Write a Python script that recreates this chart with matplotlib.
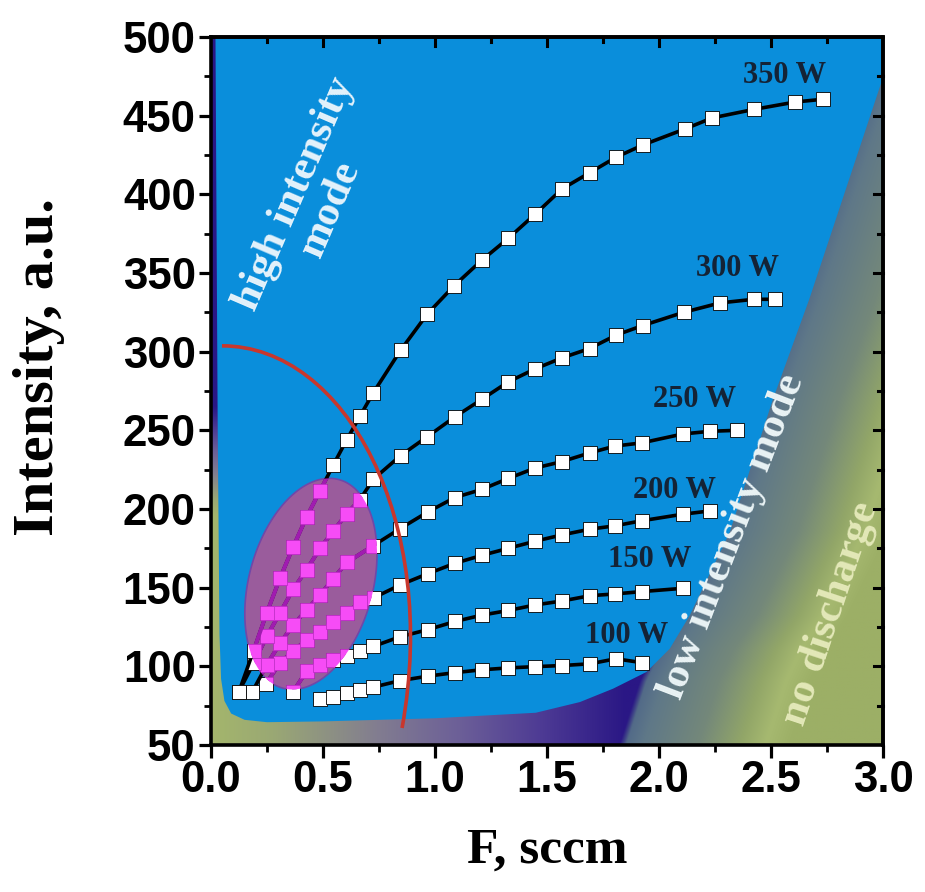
import numpy as np
import matplotlib.pyplot as plt
from matplotlib.patches import Polygon, PathPatch
from matplotlib.path import Path
from matplotlib.colors import to_rgb
from matplotlib.ticker import MultipleLocator

# --- data (F in sccm, intensity in a.u.) ---
f_350 = [0.125, 0.19, 0.249, 0.308, 0.367, 0.427, 0.487, 0.546, 0.606, 0.665, 0.725, 0.847, 0.966,
         1.086, 1.208, 1.327, 1.448, 1.568, 1.69, 1.81, 1.93, 2.115, 2.238, 2.424, 2.609, 2.73]
i_350 = [84, 110, 134, 156, 176, 195, 211.6, 228, 244, 259, 274, 301, 324,
         342, 358, 372, 387.5, 403.5, 413.7, 423.7, 431.5, 441.5, 448.6, 454, 458.7, 460.4]

f_300 = [0.125, 0.19, 0.249, 0.308, 0.367, 0.427, 0.487, 0.546, 0.606, 0.665, 0.725, 0.847, 0.966,
         1.089, 1.208, 1.327, 1.446, 1.566, 1.69, 1.81, 1.927, 2.11, 2.273, 2.424, 2.518]
i_300 = [84, 102, 119, 134, 149, 161.5, 175, 186, 197, 206, 219, 234, 246,
         258.6, 269.6, 280.8, 289, 296, 302, 310.6, 316.6, 325, 331, 333.3, 333.3]

f_250 = [0.185, 0.249, 0.308, 0.367, 0.427, 0.487, 0.546, 0.606, 0.722, 0.845, 0.97, 1.089, 1.208,
         1.327, 1.446, 1.566, 1.692, 1.803, 1.922, 2.107, 2.229, 2.347]
i_250 = [84, 101, 114.6, 126.3, 135.8, 145.4, 155.8, 166, 176.5, 187.6, 198.3, 207.3, 212.4,
         219.4, 226, 230.1, 235.7, 240, 242, 247.7, 249.4, 250]

f_200 = [0.245, 0.308, 0.367, 0.427, 0.487, 0.546, 0.606, 0.665, 0.727, 0.844, 0.97, 1.089, 1.208,
         1.327, 1.446, 1.566, 1.692, 1.803, 1.922, 2.107, 2.229]
i_200 = [89, 102, 110, 116.7, 122, 128.3, 133.6, 141, 143.6, 151.7, 159, 165.5, 170.5,
         175, 179.5, 183.5, 187.2, 189.3, 192.5, 196.7, 198.8]

f_150 = [0.367, 0.427, 0.487, 0.546, 0.606, 0.665, 0.725, 0.844, 0.97, 1.089, 1.208, 1.327, 1.446,
         1.566, 1.692, 1.803, 1.922, 2.107]
i_150 = [84, 97, 101, 104, 106.6, 110, 112.7, 118.8, 123.4, 128.5, 132.5, 135.5, 139,
         141.5, 144.9, 146, 147.5, 149.6]

f_100 = [0.487, 0.546, 0.606, 0.665, 0.725, 0.844, 0.97, 1.089, 1.208, 1.327, 1.446, 1.566, 1.692,
         1.807, 1.926]
i_100 = [79.5, 80.7, 82.9, 85, 86.8, 90.9, 93.8, 96, 97.8, 99, 99.8, 100.5, 101.6,
         104.8, 102.3]

power_labels = ['100 W', '150 W', '200 W', '250 W', '300 W', '350 W']
label_f = [1.855, 1.958, 2.07, 2.159, 2.351, 2.56]
label_i = [119.6, 168.2, 211.5, 269.5, 352.7, 475.5]

series = [(f_100, i_100), (f_150, i_150), (f_200, i_200),
          (f_250, i_250), (f_300, i_300), (f_350, i_350)]

# region outlines (decoration)
blue_f = [0.02, 3.06, 2.67, 2.508, 2.315, 2.137, 2.048, 1.944, 1.795, 1.647, 1.45, 1.0, 0.5,
          0.25, 0.15, 0.09, 0.06, 0.045, 0.038, 0.03, 0.02]
blue_i = [500, 500, 333, 269.5, 185, 132.3, 111.2, 96.4, 85.8, 77.3, 70.5, 67, 65,
          64.5, 66, 70, 78, 92, 120, 250, 500]
edge_i = [50, 90, 111, 132, 185, 270, 333, 476, 520]
edge_f = [1.84, 1.93, 2.0, 2.10, 2.28, 2.47, 2.63, 2.96, 3.06]

W, H = 925, 892
fig = plt.figure(figsize=(W / 100, H / 100), dpi=100)
pos = [211 / W, 1 - 745 / H, 672 / W, 708 / H]
ax = fig.add_axes(pos)


def ramp(vals, stops, colors):
    rgb = np.array([to_rgb(c) for c in colors])
    return np.stack([np.interp(vals, stops, rgb[:, k]) for k in range(3)], axis=-1)


# background gradient
FF, II = np.meshgrid(np.linspace(0, 3, 700), np.linspace(50, 500, 500))
d = FF - np.interp(II, edge_i, edge_f)
s = np.maximum(FF / 1.85, np.clip((II - 195) / 70, 0, 1))
left = ramp(s, [0, 0.15, 0.4, 0.6, 0.8, 1],
            ['#a4b66c', '#9aa874', '#827d90', '#6c5f98', '#4d3a94', '#2a1785'])
u = np.clip(d / 0.75, 0, 1)
right = ramp(u, [0, 0.12, 0.45, 0.7, 0.85, 1],
             ['#506888', '#5f7888', '#74887a', '#92a668', '#a6b970', '#9caf66'])
w = np.clip(d / 0.03 + 0.5, 0, 1)[..., None]
img = left * (1 - w) + right * w
ax.imshow(img, extent=(0, 3, 50, 500), origin='lower', aspect='auto',
          interpolation='bilinear', zorder=0)

ax.add_patch(Polygon(np.column_stack([blue_f, blue_i]), closed=True,
                     fc='#0a8edb', ec='none', zorder=1))

# ellipse drawn in pixel space, converted to data
pxF = 672 / 3.0
pxI = 708 / 450.0
t = np.linspace(0, 2 * np.pi, 200)
th = np.radians(75)
a, b = 108, 62
ex = a * np.cos(t) * np.cos(th) - b * np.sin(t) * np.sin(th)
ey = a * np.cos(t) * np.sin(th) + b * np.sin(t) * np.cos(th)
ell = Polygon(np.column_stack([0.446 + ex / pxF, 152.4 + ey / pxI]), closed=True,
              fc='#9a5c9c', ec='#7048a8', lw=1.2, zorder=2)
ax.add_patch(ell)

for f, i in series:
    ax.plot(f, i, '-', color='black', lw=2.6, marker='s', ms=9.5,
            mfc='white', mec='black', mew=0.6, zorder=4)
    ln, = ax.plot(f, i, '-', color='#a01cb0', lw=2.9, marker='s', ms=9.8,
                  mfc='#f64cf6', mec='#c030c8', mew=0.6, zorder=5)
    ln.set_clip_path(ell)

# red boundary arc
arc = Path([(0.049, 303.7), (0.598, 303.7), (1.022, 193), (0.853, 60.8)],
           [Path.MOVETO, Path.CURVE4, Path.CURVE4, Path.CURVE4])
ax.add_patch(PathPatch(arc, fc='none', ec='#c8372d', lw=2.6, zorder=6))

serif = 'Liberation Serif'
for lab, x, y in zip(power_labels, label_f, label_i):
    ax.text(x, y, lab, family=serif, weight='bold', fontsize=22, color='#142336',
            ha='center', va='center', zorder=7)

ax.text(0.454, 395.5, 'high intensity\nmode', family=serif, weight='bold', fontsize=31,
        color='#e4f2fb', rotation=66.7, rotation_mode='anchor', ha='center', va='center',
        multialignment='center', linespacing=1.0, zorder=7)
ax.text(2.33, 182.4, 'low intensity mode', family=serif, weight='bold', fontsize=31,
        color='#eaf3f5', rotation=69.1, rotation_mode='anchor', ha='center', va='center', zorder=7)
ax.text(2.767, 133.3, 'no discharge', family=serif, weight='bold', fontsize=31,
        color='#e3e8b8', rotation=71.5, rotation_mode='anchor', ha='center', va='center', zorder=7)

ax.set_xlim(0, 3)
ax.set_ylim(50, 500)
ax.xaxis.set_major_locator(MultipleLocator(0.5))
ax.xaxis.set_minor_locator(MultipleLocator(0.25))
ax.yaxis.set_major_locator(MultipleLocator(50))
ax.yaxis.set_minor_locator(MultipleLocator(25))
ax.xaxis.set_major_formatter(lambda v, p: f'{v:.1f}')
ax.tick_params(which='major', direction='out', length=9, width=2.3, pad=2)
ax.tick_params(which='minor', direction='out', length=5, width=2.0)
for lab in ax.get_xticklabels() + ax.get_yticklabels():
    lab.set_family('Liberation Sans')
    lab.set_weight('bold')
    lab.set_fontsize(31.5)
for sp in ax.spines.values():
    sp.set_linewidth(2.6)
    sp.set_zorder(10)

# frame on top and right, drawn explicitly, with inward ticks
ax.plot([0, 3, 3], [500, 500, 50], color='black', lw=2.6, clip_on=False,
        solid_capstyle='projecting', zorder=12)
for x in np.arange(0.25, 3.0, 0.25):
    ln = 9 if abs(x * 2 - round(x * 2)) < 1e-6 else 5
    ax.plot([x, x], [500, 500 - ln / pxI], color='black', lw=2.2, clip_on=False, zorder=12)
for y in np.arange(75, 500, 25):
    ln = 9 if y % 50 == 0 else 5
    ax.plot([3, 3 - ln / pxF], [y, y], color='black', lw=2.2, clip_on=False, zorder=12)

ax.set_xlabel('F, sccm', family=serif, weight='bold', fontsize=37)
ax.set_ylabel('Intensity, a.u.', family=serif, weight='bold', fontsize=42)
ax.xaxis.set_label_coords(0.5, -0.117)
ax.yaxis.set_label_coords(-0.217, 0.534)

fig.savefig('out.png', dpi=100)
